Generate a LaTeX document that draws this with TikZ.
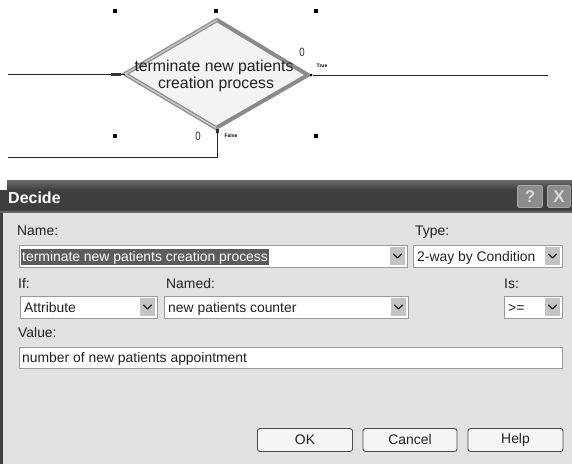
\documentclass[tikz,border=0pt]{standalone}
\usepackage{fontspec}
\setmainfont{Liberation Sans}
\usetikzlibrary{arrows.meta}
\definecolor{edgegray}{HTML}{8A8A8A}
\definecolor{edgelight}{HTML}{C6C6C6}
\definecolor{shapefill}{HTML}{F3F3F3}
\definecolor{bodygray}{HTML}{E2E2E2}
\definecolor{titledark}{HTML}{3E3E3E}
\definecolor{titlelight}{HTML}{6A6A6A}
\definecolor{fieldedge}{HTML}{9A9A9A}
\definecolor{dropfill}{HTML}{C4C4C4}
\definecolor{selfill}{HTML}{5C5C5C}
\definecolor{inktext}{HTML}{222222}
\tikzset{
  handle/.style={fill=black,minimum size=3.8pt,inner sep=0pt,draw=none},
  flowline/.style={draw=black!85,line width=0.9pt},
  shapetext/.style={font=\fontsize{15.8}{18}\selectfont,text=inktext,inner sep=0pt},
  countlabel/.style={font=\fontsize{12}{13}\selectfont,inner sep=0pt,text=black!80,xscale=0.8},
  tinylabel/.style={font=\fontsize{5}{6}\selectfont\bfseries,inner sep=0pt},
  dlglabel/.style={font=\fontsize{13.9}{16}\selectfont,text=inktext,anchor=base west,inner sep=0pt},
  field/.style={draw=fieldedge,fill=white,line width=0.8pt},
  dropbtn/.style={fill=dropfill,draw=none},
  chevron/.style={draw=inktext,line width=1.3pt,line cap=round,line join=round},
  pushbtn/.style={draw=black!70,fill=white!96!black,line width=0.9pt,rounded corners=2.5pt},
  btntext/.style={font=\fontsize{13.9}{16}\selectfont,text=inktext,inner sep=0pt}
}
\newcommand{\dropdown}[3]{% right edge x, top y, bottom y
  \fill[dropbtn] ({#1-17},{#2+2}) rectangle ({#1-2},{#3-2});
  \draw[chevron] ({#1-13.5},{(#2+#3)/2-2}) -- ({#1-9.5},{(#2+#3)/2+2}) -- ({#1-5.5},{(#2+#3)/2-2});
}
\begin{document}
\begin{tikzpicture}[x=1pt,y=-1pt]
\useasboundingbox (0,0) rectangle (572,464);
\fill[white] (0,0) rectangle (572,464);

% ---------- decision shape ----------
\coordinate (dl) at (125,74);
\coordinate (dt) at (217,20);
\coordinate (dr) at (308,75);
\coordinate (db) at (216,128);
\fill[shapefill] (dl) -- (dt) -- (dr) -- (db) -- cycle;
\draw[edgegray,line width=4pt,line join=miter] (dl) -- (dt) -- (dr) -- (db) -- cycle;
\draw[edgelight,line width=1.6pt] (db) -- (dl) -- (dt);
\node[shapetext] (dtext1) at (214,67) {terminate new patients};
\node[shapetext] (dtext2) at (216,84) {creation process};

% selection handles
\node[handle] (h1) at (115,11) {};
\node[handle] (h2) at (216,11) {};
\node[handle] (h3) at (316,11) {};
\node[handle] (h4) at (115,136) {};
\node[handle] (h5) at (316,136) {};

% connectors
\coordinate (inend) at (8,74);
\coordinate (outtrue) at (548,75);
\coordinate (falsecorner) at (217,157);
\coordinate (falseend) at (8,157);
\node[fill=black,circle,inner sep=0pt,minimum size=3pt] (tport) at (311,75) {};
\node[fill=black!80,inner sep=0pt,minimum width=3pt,minimum height=4pt] (fport) at (217,131) {};
\draw[flowline] (inend) -- (dl);
\fill[black!80] (111,72.6) rectangle (121,75.6);
\draw[flowline] (tport) -- (outtrue);
\draw[flowline] (fport) -- (falsecorner) -- (falseend);

% counters and branch labels
\node[countlabel] (ctrue) at (302,52) {0};
\node[countlabel] (cfalse) at (198,136) {0};
\node[tinylabel] (ltrue) at (322,66) {True};
\node[tinylabel] (lfalse) at (231,136) {False};

% ---------- dialog window ----------
\fill[bodygray] (0,211) rectangle (572,464);
\fill[black!75] (0,190) rectangle (3,464);
\shade[top color=titlelight,bottom color=titledark] (7,180) rectangle (572,190);
\fill[titledark] (0,190) rectangle (572,211);
\fill[black!60] (0,210.5) rectangle (572,212.5);
\node[font=\fontsize{16}{18}\selectfont\bfseries,text=white,anchor=base west,inner sep=0pt] (title) at (8,203) {Decide};

% caption buttons
\node[draw=black!35,fill=black!45,line width=0.8pt,rounded corners=2pt,minimum width=25pt,minimum height=22pt,inner sep=0pt,
      font=\fontsize{17}{18}\selectfont\bfseries,text=white!85!black] (qbtn) at (530,196.5) {?};
\node[draw=black!35,fill=black!45,line width=0.8pt,rounded corners=2pt,minimum width=23pt,minimum height=22pt,inner sep=0pt,
      font=\fontsize{17}{18}\selectfont\bfseries,text=white!85!black] (xbtn) at (559,196.5) {X};

% Name / Type row
\node[dlglabel] (lname) at (17,235) {Name:};
\node[dlglabel] (ltype) at (415,235) {Type:};
\draw[field] (19,245) rectangle (407,267);
\dropdown{407}{245}{267}
\node[fill=selfill,text=white,font=\fontsize{13.9}{16}\selectfont,inner xsep=1pt,inner ysep=1.5pt,anchor=base west] (vname) at (21,261) {terminate new patients creation process};
\draw[field] (413,245) rectangle (562,267);
\dropdown{562}{245}{267}
\node[dlglabel] (vtype) at (417,261) {2-way by Condition};

% If / Named / Is row
\node[dlglabel] (lif) at (18,288) {If:};
\node[dlglabel] (lnamed) at (166,288) {Named:};
\node[dlglabel] (lis) at (504,288) {Is:};
\draw[field] (20,296) rectangle (157,318);
\dropdown{157}{296}{318}
\node[dlglabel] (vif) at (24,312) {Attribute};
\draw[field] (164,296) rectangle (408,318);
\dropdown{408}{296}{318}
\node[dlglabel] (vnamed) at (168,312) {new patients counter};
\draw[field] (504,296) rectangle (562,318);
\dropdown{562}{296}{318}
\node[dlglabel] (vis) at (508,312) {>=};

% Value row
\node[dlglabel] (lvalue) at (18,337) {Value:};
\draw[field] (19,347) rectangle (562,368);
\node[dlglabel] (vvalue) at (22,362) {number of new patients appointment};

% command buttons
\node[pushbtn,minimum width=95pt,minimum height=23pt,inner sep=0pt] (bok) at (305,440) {};
\node[btntext] at (bok) {OK};
\node[pushbtn,minimum width=94pt,minimum height=23pt,inner sep=0pt] (bcancel) at (410,440) {};
\node[btntext] at (bcancel) {Cancel};
\node[pushbtn,minimum width=95pt,minimum height=23pt,inner sep=0pt] (bhelp) at (515.5,440) {};
\node[btntext] at (bhelp) {Help};
\end{tikzpicture}
\end{document}
